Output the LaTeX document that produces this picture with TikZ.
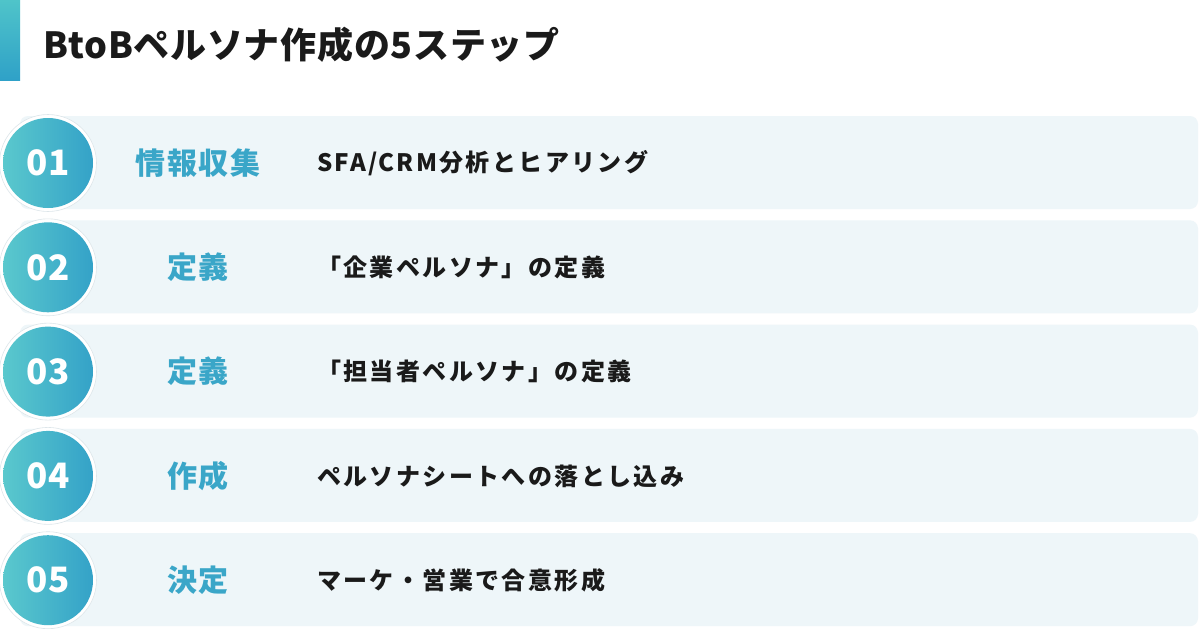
\documentclass[tikz,border=0pt]{standalone}
\usepackage{fontspec}
\setmainfont{Noto Sans CJK JP}
\newfontfamily\descfont[LetterSpace=10]{Noto Sans CJK JP}
\newfontfamily\catfont[LetterSpace=6]{Noto Sans CJK JP}
\newfontfamily\titlefont[LetterSpace=2]{Noto Sans CJK JP}
\definecolor{barTop}{HTML}{4FC4C9}
\definecolor{barBot}{HTML}{2FA1C8}
\definecolor{circL}{HTML}{5AC8CD}
\definecolor{circR}{HTML}{34A2C8}
\definecolor{rowfill}{HTML}{EEF6F9}
\definecolor{cattxt}{HTML}{3AA6C8}
\definecolor{desctxt}{HTML}{1A1A1A}
\definecolor{ringgray}{HTML}{DDE6EA}
\tikzset{
  rowbox/.style={fill=rowfill, rounded corners=8pt},
  outerring/.style={circle, minimum size=97pt, inner sep=0pt, draw=ringgray, line width=0.6pt, fill=white},
  numcirc/.style={circle, minimum size=90pt, inner sep=0pt, left color=circL, right color=circR, draw=none},
  numtxt/.style={inner sep=0pt, text=white, font=\bfseries\fontsize{35}{40}\selectfont},
  cattext/.style={inner sep=0pt, text=cattxt, font=\catfont\bfseries\fontsize{30}{35}\selectfont},
  desctext/.style={inner sep=0pt, anchor=west, text=desctxt, font=\descfont\bfseries\fontsize{24}{28}\selectfont},
  titletext/.style={inner sep=0pt, anchor=base west, text=desctxt, font=\titlefont\bfseries\fontsize{36}{41}\selectfont}
}
\begin{document}
\begin{tikzpicture}[x=1pt,y=-1pt]
\useasboundingbox (0,0) rectangle (1200,630);
\fill[white] (0,0) rectangle (1200,630);
% title bar
\shade[top color=barTop, bottom color=barBot] (0,0) rectangle (20,80);
\node[titletext] (title) at (43,58) {BtoBペルソナ作成の5ステップ};
% rows
\foreach \i/\num/\cat/\desc in {
  0/01/情報収集/SFA\slash CRM分析とヒアリング,
  1/02/定義/「企業ペルソナ」の定義,
  2/03/定義/「担当者ペルソナ」の定義,
  3/04/作成/ペルソナシートへの落とし込み,
  4/05/決定/マーケ・営業で合意形成}{
  \pgfmathsetmacro{\top}{116+104.3*\i}
  \pgfmathsetmacro{\bot}{\top+93}
  \pgfmathsetmacro{\cy}{\top+47}
  \fill[rowbox] (20,\top) rectangle (1198,\bot);
  \node[outerring] (ring\i) at (48,\cy) {};
  \node[numcirc] (circ\i) at (ring\i.center) {};
  \node[numtxt] (num\i) at (circ\i.center) {\num};
  \node[cattext] (cat\i) at (198,\cy) {\cat};
  \node[desctext] (desc\i) at (317,\cy) {\desc};
}
\end{tikzpicture}
\end{document}
